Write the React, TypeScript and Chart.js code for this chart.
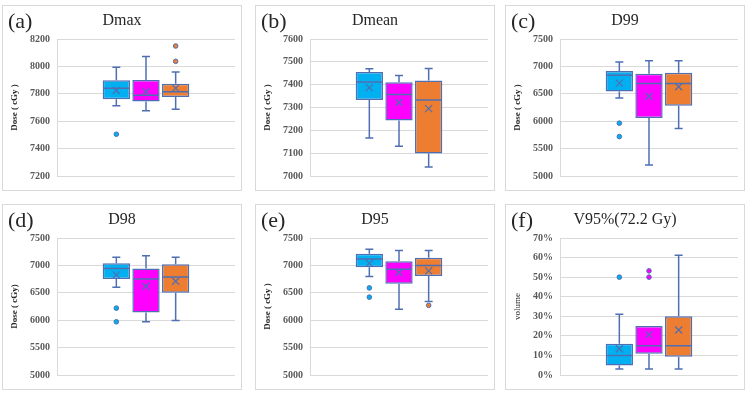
import React, { useEffect, useRef } from "react";
import { Chart, registerables } from "chart.js";

Chart.register(...registerables);

// Series colours (three plans per metric)
const seriesColors = ["#00B0F0", "#FF00FF", "#ED7D31"];
const outline = "#4F6FB3";
const serif = "'Liberation Serif', 'Times New Roman', serif";

// Box statistics per series: [min whisker, Q1, median, Q3, max whisker]
const dmaxBox = [
  [7712, 7761, 7841, 7898, 7993],
  [7676, 7744, 7790, 7900, 8073],
  [7688, 7776, 7815, 7873, 7959],
];
const dmaxMean = [7824, 7815, 7841];
const dmaxOutliers = [[7505], [], [8149, 8037]];

const dmeanBox = [
  [7166, 7333, 7412, 7455, 7470],
  [7130, 7243, 7357, 7411, 7440],
  [7039, 7098, 7333, 7418, 7471],
];
const dmeanMean = [7387, 7322, 7295];
const dmeanOutliers = [[], [], []];

const d99Box = [
  [6425, 6542, 6837, 6917, 7082],
  [5203, 6057, 6689, 6867, 7101],
  [5866, 6284, 6689, 6886, 7101],
];
const d99Mean = [6695, 6456, 6628];
const d99Outliers = [[5964, 5719], [], []];

const d98Box = [
  [6602, 6754, 6945, 7040, 7150],
  [5971, 6141, 6750, 6945, 7175],
  [5995, 6499, 6790, 7020, 7150],
];
const d98Mean = [6826, 6620, 6711];
const d98Outliers = [[6220, 5971], [], []];

const d95Box = [
  [6799, 6966, 7116, 7212, 7296],
  [6199, 6667, 6930, 7074, 7272],
  [6343, 6805, 6996, 7140, 7272],
];
const d95Mean = [7038, 6870, 6900];
const d95Outliers = [[6589, 6421], [], [6271]];

// V95% volume, in percent
const v95Box = [
  [3.1, 4.9, 10.0, 16.0, 31.1],
  [3.1, 10.9, 15.0, 25.0, 25.0],
  [3.1, 9.3, 15.0, 30.0, 61.2],
];
const v95Mean = [13.4, 20.6, 23.0];
const v95Outliers = [[50], [53.2, 50], []];

type PanelDef = {
  tag: string;
  title: string;
  yTitle: string;
  yTitleBold: boolean;
  min: number;
  max: number;
  step: number;
  percent: boolean;
  box: number[][];
  mean: number[];
  outliers: number[][];
  left: number;
  top: number;
};

const panels: PanelDef[] = [
  { tag: "(a)", title: "Dmax", yTitle: "Dose ( cGy )", yTitleBold: true, min: 7200, max: 8200, step: 200, percent: false, box: dmaxBox, mean: dmaxMean, outliers: dmaxOutliers, left: 2, top: 5 },
  { tag: "(b)", title: "Dmean", yTitle: "Dose ( cGy )", yTitleBold: true, min: 7000, max: 7600, step: 100, percent: false, box: dmeanBox, mean: dmeanMean, outliers: dmeanOutliers, left: 255, top: 5 },
  { tag: "(c)", title: "D99", yTitle: "Dose ( cGy )", yTitleBold: true, min: 5000, max: 7500, step: 500, percent: false, box: d99Box, mean: d99Mean, outliers: d99Outliers, left: 505, top: 5 },
  { tag: "(d)", title: "D98", yTitle: "Dose ( cGy)", yTitleBold: true, min: 5000, max: 7500, step: 500, percent: false, box: d98Box, mean: d98Mean, outliers: d98Outliers, left: 2, top: 204 },
  { tag: "(e)", title: "D95", yTitle: "Dose ( cGy )", yTitleBold: true, min: 5000, max: 7500, step: 500, percent: false, box: d95Box, mean: d95Mean, outliers: d95Outliers, left: 255, top: 204 },
  { tag: "(f)", title: "V95%(72.2 Gy)", yTitle: "volume", yTitleBold: false, min: 0, max: 70, step: 10, percent: true, box: v95Box, mean: v95Mean, outliers: v95Outliers, left: 505, top: 204 },
];

const PANEL_W = 240;
const PANEL_H = 186;

// Whiskers, medians, means and outliers drawn on top of the Q1–Q3 floating bars
const boxExtras = {
  id: "boxExtras",
  afterDatasetsDraw(chart: any, _args: any, opts: any) {
    const { ctx } = chart;
    const y = chart.scales.y;
    const box: number[][] = opts.box;
    const mean: number[] = opts.mean;
    const outliers: number[][] = opts.outliers;
    ctx.save();
    ctx.strokeStyle = outline;
    ctx.lineWidth = 1.5;
    box.forEach((stats, i) => {
      const bar = chart.getDatasetMeta(i).data[0];
      if (!bar) return;
      const x = bar.x;
      const half = bar.width / 2;
      const [mn, q1, md, q3, mx] = stats;
      const cap = 4;
      ctx.beginPath();
      if (mx > q3) {
        ctx.moveTo(x, y.getPixelForValue(q3));
        ctx.lineTo(x, y.getPixelForValue(mx));
        ctx.moveTo(x - cap, y.getPixelForValue(mx));
        ctx.lineTo(x + cap, y.getPixelForValue(mx));
      }
      if (mn < q1) {
        ctx.moveTo(x, y.getPixelForValue(q1));
        ctx.lineTo(x, y.getPixelForValue(mn));
        ctx.moveTo(x - cap, y.getPixelForValue(mn));
        ctx.lineTo(x + cap, y.getPixelForValue(mn));
      }
      const ym = y.getPixelForValue(md);
      ctx.moveTo(x - half + 1, ym);
      ctx.lineTo(x + half - 1, ym);
      ctx.stroke();

      // mean marker
      const yv = y.getPixelForValue(mean[i]);
      const s = 3.5;
      ctx.beginPath();
      ctx.lineWidth = 1.2;
      ctx.moveTo(x - s, yv - s);
      ctx.lineTo(x + s, yv + s);
      ctx.moveTo(x - s, yv + s);
      ctx.lineTo(x + s, yv - s);
      ctx.stroke();
      ctx.lineWidth = 1.5;

      // outliers
      outliers[i].forEach((v) => {
        ctx.beginPath();
        ctx.arc(x, y.getPixelForValue(v), 2.3, 0, Math.PI * 2);
        ctx.fillStyle = seriesColors[i];
        ctx.fill();
        ctx.lineWidth = 1;
        ctx.stroke();
        ctx.lineWidth = 1.5;
      });
    });
    ctx.restore();
  },
};

function Panel({ p }: { p: PanelDef }) {
  const ref = useRef<HTMLCanvasElement>(null);
  useEffect(() => {
    if (!ref.current) return;
    const chart = new Chart(ref.current, {
      type: "bar",
      data: {
        labels: [""],
        datasets: p.box.map((stats, i) => ({
          label: `S${i + 1}`,
          data: [[stats[1], stats[3]]] as any,
          backgroundColor: seriesColors[i],
          borderColor: outline,
          borderWidth: 1.5,
          borderSkipped: false,
          barPercentage: 0.92,
          categoryPercentage: 0.5,
        })),
      },
      options: {
        animation: false,
        responsive: false,
        maintainAspectRatio: false,
        events: [],
        layout: { padding: { left: 6, right: 6, top: 0, bottom: 14 } },
        plugins: {
          legend: { display: false },
          tooltip: { enabled: false },
          title: {
            display: true,
            text: p.title,
            color: "#262626",
            font: { family: serif, size: 16, weight: "normal" },
            padding: { top: 5, bottom: 8.8 },
          },
          boxExtras: { box: p.box, mean: p.mean, outliers: p.outliers },
        } as any,
        scales: {
          x: { display: false, grid: { display: false } },
          y: {
            min: p.min,
            max: p.max,
            afterFit: (scale: any) => {
              scale.width = 48;
            },
            ticks: {
              stepSize: p.step,
              padding: 7,
              color: "#595959",
              font: { family: serif, size: 10, weight: "bold" },
              callback: (v: any) => (p.percent ? `${v}%` : `${v}`),
            },
            grid: { color: "#d9d9d9", lineWidth: 1, drawTicks: false },
            border: { display: true, color: "#d9d9d9" },
            title: {
              display: true,
              text: p.yTitle,
              color: "#262626",
              font: { family: serif, size: 9, weight: p.yTitleBold ? "bold" : "normal" },
              padding: { top: 0, bottom: 0 },
            },
          },
        },
      },
      plugins: [boxExtras],
    });
    return () => chart.destroy();
  }, [p]);

  return (
    <div
      style={{
        position: "absolute",
        left: p.left,
        top: p.top,
        width: PANEL_W,
        height: PANEL_H,
        border: "1px solid #d9d9d9",
        boxSizing: "border-box",
        background: "#fff",
      }}
    >
      <canvas ref={ref} width={PANEL_W - 2} height={PANEL_H - 2} style={{ position: "absolute", left: 0, top: 0 }} />
      <div
        style={{
          position: "absolute",
          left: 5,
          top: 4,
          fontFamily: serif,
          fontSize: 22,
          lineHeight: "22px",
          color: "#262626",
        }}
      >
        {p.tag}
      </div>
    </div>
  );
}

export default function App() {
  return (
    <div style={{ position: "fixed", left: 0, top: 0, width: 750, height: 403, background: "#fff" }}>
      {panels.map((p) => (
        <Panel key={p.tag} p={p} />
      ))}
    </div>
  );
}
